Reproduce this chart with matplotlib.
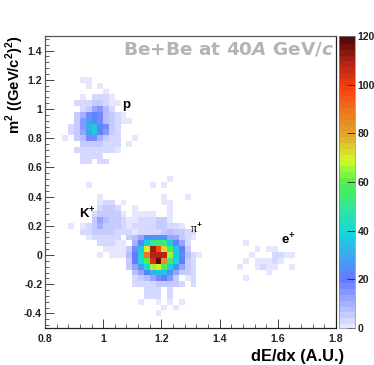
import numpy as np
import matplotlib
matplotlib.use("Agg")
import matplotlib.pyplot as plt
from matplotlib.colors import LinearSegmentedColormap
from matplotlib.ticker import MultipleLocator, FixedLocator

plt.rcParams['font.family'] = ['Liberation Sans', 'DejaVu Sans']
plt.rcParams['font.weight'] = 'bold'
plt.rcParams['mathtext.fontset'] = 'custom'
plt.rcParams['mathtext.rm'] = 'Liberation Sans:bold'
plt.rcParams['mathtext.bf'] = 'Liberation Sans:bold'
plt.rcParams['mathtext.it'] = 'DejaVu Sans:italic:bold'

X_EDGES = (0.8, 1.8)
Y_EDGES = (-0.5, 1.5)
NBINS = 50

# row index: (first column, counts per column)
proton = {
    42: (6, [2, 2]),
    41: (7, [2, 0, 2]),
    40: (10, [2]),
    39: (6, [2, 0, 3, 3, 3, 2]),
    38: (5, [3, 3, 4, 5, 5, 3, 2, 2]),
    37: (6, [3, 6, 13, 15, 9, 4]),
    36: (5, [5, 10, 19, 23, 19, 8, 5, 3, 2]),
    35: (5, [6, 15, 30, 26, 18, 8, 5, 3, 2, 2]),
    34: (4, [3, 6, 16, 33, 37, 24, 17, 6, 4]),
    33: (4, [3, 6, 14, 30, 38, 22, 16, 5, 4]),
    32: (3, [2, 0, 5, 8, 18, 18, 10, 6, 4, 3, 0, 0, 2]),
    31: (6, [5, 6, 6, 5, 4, 3, 3, 0, 2]),
    30: (5, [3, 3, 4, 3, 4, 3, 3, 2]),
    29: (6, [3, 3, 3, 3]),
    28: (6, [3, 3, 0, 3, 3]),
}
kaon = {
    24: (7, [2]),
    22: (9, [2]),
    21: (9, [2, 3, 3, 0, 1]),
    20: (9, [3, 5, 5, 4]),
    19: (8, [4, 5, 6, 6, 5, 2]),
    18: (8, [6, 12, 8, 7, 6, 4, 2]),
    17: (4, [2, 0, 2, 4, 6, 10, 7, 6, 5, 3, 2]),
    16: (6, [3, 3, 5, 5, 6, 5, 4, 3, 4]),
    15: (7, [2, 3, 3, 4, 3, 3]),
    14: (9, [3, 3, 3, 2, 2]),
    13: (10, [2, 2, 2, 2, 2]),
    12: (9, [2, 0, 2, 2, 2]),
}
pion = {
    25: (21, [2]),
    24: (18, [2, 0, 2]),
    22: (20, [2, 0, 0, 0, 2]),
    21: (13, [2, 0, 0, 0, 0, 0, 0, 2, 2]),
    20: (15, [2, 0, 0, 0, 0, 0, 2]),
    19: (13, [2, 0, 2, 2, 2, 2, 0, 0, 2]),
    18: (13, [2, 0, 2, 3, 3, 3, 5, 5, 2]),
    17: (13, [3, 0, 3, 3, 3, 3, 5, 5, 3, 3, 2]),
    16: (15, [2, 3, 3, 3, 4, 6, 8, 7, 5, 4, 3]),
    15: (14, [6, 8, 14, 25, 28, 28, 27, 14, 12, 6, 3, 2]),
    14: (15, [10, 22, 38, 52, 56, 54, 38, 22, 12, 4]),
    13: (14, [6, 18, 36, 70, 112, 98, 72, 56, 38, 20, 6]),
    12: (14, [8, 20, 42, 90, 108, 110, 110, 66, 36, 26, 8, 3, 2]),
    11: (14, [6, 20, 42, 58, 104, 118, 84, 55, 40, 20, 7, 3]),
    10: (14, [5, 12, 28, 42, 66, 68, 58, 40, 26, 14, 7, 3]),
    9: (15, [8, 14, 22, 32, 34, 34, 24, 14, 6, 5, 3]),
    8: (15, [4, 6, 8, 14, 18, 22, 16, 7, 0, 2, 4]),
    7: (15, [3, 3, 4, 4, 6, 6, 5, 5, 4, 0, 3]),
    6: (17, [3, 4, 4, 0, 3]),
    5: (17, [3, 3, 4, 0, 3]),
    4: (16, [2, 0, 0, 2, 0, 2, 0, 2]),
    3: (20, [2, 0, 2]),
    2: (19, [2]),
}
electron = {
    14: (34, [2]),
    13: (36, [2, 0, 2, 2]),
    12: (35, [2, 0, 0, 0, 3, 3, 2, 2]),
    11: (34, [2, 0, 2, 2, 2, 3, 2]),
    10: (33, [2, 0, 0, 2, 3, 2, 2, 0, 0, 2]),
    9: (38, [2]),
    8: (34, [2]),
}

cbar_stops = [0, 20, 30, 40, 50, 60, 70, 80, 90, 100, 110, 120]
cbar_colors = ['#e6e6ff', '#6478ff', '#3ca8f0', '#14d8dc', '#32e69a', '#4cf04c',
               '#d4fa28', '#dcaa2c', '#f07820', '#fa4010', '#b82418', '#5a0a0a']

counts = np.zeros((NBINS, NBINS))
for cluster in (proton, kaon, pion, electron):
    for row, (first, vals) in cluster.items():
        for k, v in enumerate(vals):
            counts[row, first + k] = max(counts[row, first + k], v)
counts = np.ma.masked_where(counts == 0, counts)

cmap = LinearSegmentedColormap.from_list(
    'root', [(s / 120, c) for s, c in zip(cbar_stops, cbar_colors)], N=50)

fig = plt.figure(figsize=(3.74, 3.65), dpi=100)
W, H = 374, 365
ax = fig.add_axes([45 / W, 1 - 328 / H, 291 / W, 292 / H])
cax = fig.add_axes([338.5 / W, 1 - 328 / H, 16.5 / W, 292 / H])

xe = np.linspace(*X_EDGES, NBINS + 1)
ye = np.linspace(*Y_EDGES, NBINS + 1)
mesh = ax.pcolormesh(xe, ye, counts, cmap=cmap, vmin=0, vmax=120, linewidth=0)

ax.set_xlim(*X_EDGES)
ax.set_ylim(*Y_EDGES)
ax.xaxis.set_major_locator(MultipleLocator(0.2))
ax.xaxis.set_minor_locator(MultipleLocator(0.04))
ax.yaxis.set_major_locator(MultipleLocator(0.2))
ax.yaxis.set_minor_locator(MultipleLocator(0.04))
ax.tick_params(which='major', direction='in', length=6.5, width=0.7,
               color='#444444', labelsize=7.6)
ax.tick_params(which='minor', direction='in', length=3.2, width=0.6, color='#444444')
ax.tick_params(axis='x', which='major', pad=4)
ax.tick_params(axis='y', which='major', pad=2)
ax.set_xticks([0.8, 1.0, 1.2, 1.4, 1.6, 1.8])
ax.set_xticklabels(['0.8', '1', '1.2', '1.4', '1.6', '1.8'], color='#222222')
ax.set_yticks([-0.4, -0.2, 0, 0.2, 0.4, 0.6, 0.8, 1.0, 1.2, 1.4])
ax.set_yticklabels(['-0.4', '-0.2', '0', '0.2', '0.4', '0.6', '0.8', '1', '1.2', '1.4'],
                   color='#222222')
for name, spine in ax.spines.items():
    spine.set_linewidth(0.9)
    spine.set_color('#222222' if name in ('right', 'bottom') else '#555555')

fig.text(344 / W, 1 - 361 / H, 'dE/dx (A.U.)', ha='right', va='baseline', fontsize=11.8)
fig.text(15 / W, 1 - 35 / H, r'm$^{2}$ ((GeV/c$^{2}$)$^{2}$)', rotation=90,
         ha='center', va='top', fontsize=10.6)

ax.text(0.995, 0.985, r'Be+Be at 40$\mathit{A}$ GeV/$\mathit{c}$', transform=ax.transAxes,
        ha='right', va='top', fontsize=13.3, color='#b4b4b4', family='DejaVu Sans')

ax.text(1.065, 1.03, 'p', fontsize=9.5, va='center')
ax.text(0.917, 0.28, r'K$^{+}$', fontsize=9.5, va='center')
ax.text(1.30, 0.18, '\u03c0$^{+}$', fontsize=8.5, va='center', family='Liberation Serif',
        fontweight='normal')
ax.text(1.61, 0.105, r'e$^{+}$', fontsize=9.5, va='center')

cb = fig.colorbar(mesh, cax=cax)
cb.solids.set_edgecolor('face')
cb.set_ticks(FixedLocator([0, 20, 40, 60, 80, 100, 120]))
cb.ax.tick_params(direction='in', length=6, width=0.7, color='#333333',
                  labelsize=7.6, pad=2, labelcolor='#222222')
cb.outline.set_linewidth(0.5)
cb.outline.set_edgecolor('#888888')

fig.savefig('out.png', dpi=100)
